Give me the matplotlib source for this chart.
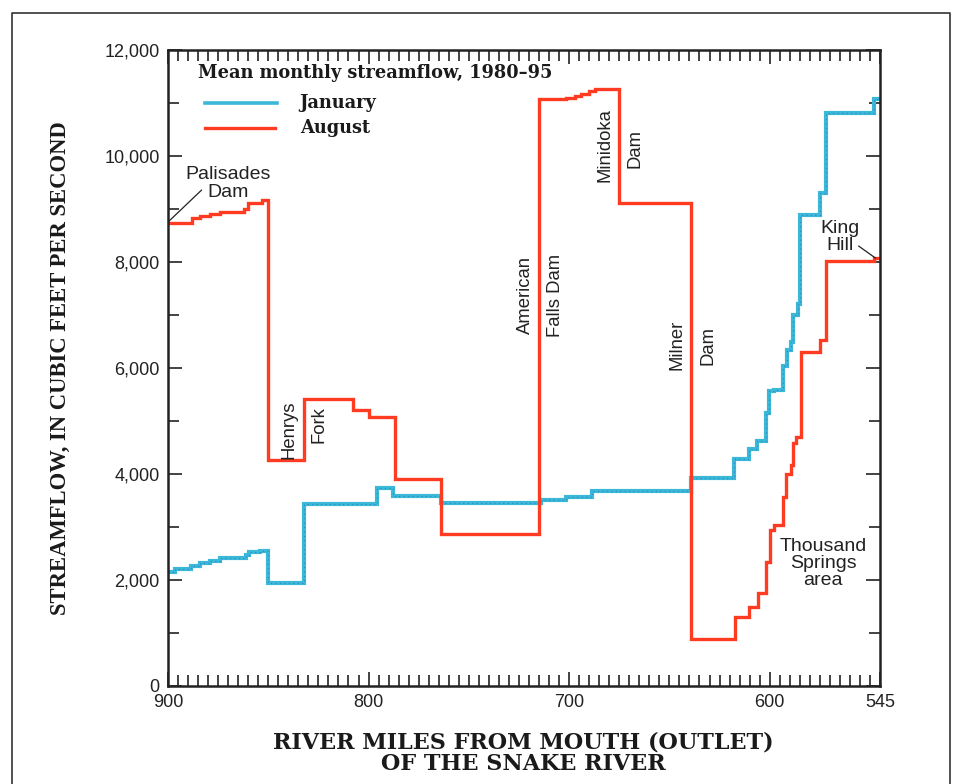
import numpy as np
import matplotlib.pyplot as plt
from matplotlib.lines import Line2D
from matplotlib.ticker import MultipleLocator, FixedLocator, FuncFormatter

# River miles where each reach starts (read downstream), and mean flow in that reach
aug_miles = [900, 888, 884, 879, 874, 862, 860, 853, 850, 832, 807.5, 800, 787,
             764, 715, 701.5, 697, 694, 690, 687, 675, 639, 617.5, 610.3, 606,
             601.6, 600, 597.6, 593.3, 592, 589.4, 588.4, 586.7, 584.4, 574.8,
             572, 548, 545]
aug_flow = [8740, 8840, 8870, 8900, 8940, 8995, 9120, 9170, 4265, 5415, 5210,
            5085, 3905, 2860, 11085, 11105, 11140, 11180, 11230, 11260, 9110,
            880, 1295, 1500, 1760, 2345, 2945, 3040, 3560, 4000, 4170, 4590,
            4690, 6310, 6530, 8020, 8080, 8080]

jan_miles = [900, 896.5, 888.7, 884, 879, 874, 861, 859.6, 854, 850, 832, 796,
             788, 764, 714, 701.4, 688.6, 639, 618, 610.3, 606.5, 601.6, 600.3,
             597.6, 593.3, 591.6, 589.4, 588.4, 586, 584.8, 574.8, 571.8, 548,
             545]
jan_flow = [2155, 2205, 2265, 2315, 2365, 2415, 2470, 2520, 2545, 1935, 3435,
            3730, 3585, 3460, 3510, 3570, 3675, 3935, 4275, 4465, 4630, 5145,
            5570, 5590, 6040, 6350, 6500, 7000, 7210, 8890, 9310, 10820, 11070,
            11070]

x_labels = [900, 800, 700, 600, 545]
y_labels = [0, 2000, 4000, 6000, 8000, 10000, 12000]

RED = "#ff3b22"
CYAN = "#3bb8d8"
SERIF = ["Liberation Serif", "DejaVu Serif"]
WIDE_SERIF = ["DejaVu Serif"]
SANS = ["Liberation Sans", "DejaVu Sans"]


def draw_chart(output_filename: str = "out.png") -> str:
    """
    Step plot of January and August streamflow along the Snake River.
    """
    fig = plt.figure(figsize=(9.56, 7.84), dpi=100)
    ax = fig.add_axes([0.1757, 0.125, 0.7448, 0.811])

    ax.step(jan_miles, jan_flow, where="post", color=CYAN, linewidth=3.0,
            solid_joinstyle="miter")
    ax.step(jan_miles, jan_flow, where="post", color="#2b86c4", linewidth=0.8,
            linestyle=(0, (1, 3)))
    ax.step(aug_miles, aug_flow, where="post", color=RED, linewidth=2.4,
            solid_joinstyle="miter")

    ax.set_xlim(900, 545)
    ax.set_ylim(0, 12000)

    # ticks on all four sides, pointing in
    ax.xaxis.set_major_locator(FixedLocator(x_labels))
    ax.xaxis.set_minor_locator(MultipleLocator(5))
    ax.yaxis.set_major_locator(FixedLocator(y_labels))
    ax.yaxis.set_minor_locator(MultipleLocator(1000))
    ax.yaxis.set_major_formatter(FuncFormatter(lambda v, p: f"{int(v):,}"))
    ax.tick_params(which="both", direction="in", top=True, right=True,
                   color="#222222", width=1.2)
    ax.tick_params(which="major", length=10, labelsize=13, pad=6)
    ax.tick_params(which="minor", length=8)
    for lab in ax.get_xticklabels() + ax.get_yticklabels():
        lab.set_family(SANS)
        lab.set_color("#222222")
    for sp in ax.spines.values():
        sp.set_linewidth(1.8)
        sp.set_color("#222222")

    # legend drawn by hand
    tr = ax.transAxes
    leg = dict(transform=tr, family=WIDE_SERIF, fontweight="bold", fontsize=12.8,
               va="center", color="#1a1a1a")
    ax.text(0.042, 0.964, "Mean monthly streamflow, 1980\u201395", **leg)
    ax.add_line(Line2D([0.052, 0.153], [0.917, 0.917], transform=tr,
                       color=CYAN, linewidth=2.6))
    ax.add_line(Line2D([0.052, 0.150], [0.877, 0.877], transform=tr,
                       color=RED, linewidth=2.4))
    ax.text(0.185, 0.917, "January", **leg)
    ax.text(0.185, 0.877, "August", **leg)

    # place names along the river
    note = dict(family=SANS, fontsize=14, color="#222222", ha="center", va="center")
    side = dict(note, fontsize=13.3, rotation=90)
    ax.text(870.2, 9480, "Palisades\nDam", linespacing=1.1, **note)
    ax.add_line(Line2D([900, 883.3], [8755, 9358], color="#222222", lw=0.9))
    ax.text(839.5, 4830, "Henrys", **side)
    ax.text(824.6, 4925, "Fork", **side)
    ax.text(721.8, 7377, "American", **side)
    ax.text(706.9, 7377, "Falls Dam", **side)
    ax.text(682.1, 10208, "Minidoka", **side)
    ax.text(667.3, 10151, "Dam", **side)
    ax.text(646.4, 6434, "Milner", **side)
    ax.text(631.0, 6434, "Dam", **side)
    ax.text(565.0, 8472, "King\nHill", linespacing=1.0, **note)
    ax.add_line(Line2D([555.6, 547.2], [8302, 8075], color="#222222", lw=0.9))
    ax.text(573.4, 2321, "Thousand\nSprings\narea", linespacing=1.0, **note)

    fig.text(0.063, 0.531, "STREAMFLOW, IN CUBIC FEET PER SECOND", rotation=90,
             family=SERIF, fontweight="bold", fontsize=16.3, ha="center",
             va="center", color="#1a1a1a")
    fig.text(0.547, 0.039, "RIVER MILES FROM MOUTH (OUTLET)\nOF THE SNAKE RIVER",
             family=WIDE_SERIF, fontweight="bold", fontsize=16, ha="center",
             va="center", linespacing=1.0, color="#1a1a1a")

    # page frame
    fig.add_artist(Line2D([0.013, 0.013, 0.994, 0.994], [0.0, 0.984, 0.984, 0.0],
                          transform=fig.transFigure, color="#333333", lw=1.2))

    plt.savefig(output_filename, dpi=100)
    plt.close()
    return output_filename


if __name__ == "__main__":
    draw_chart()
